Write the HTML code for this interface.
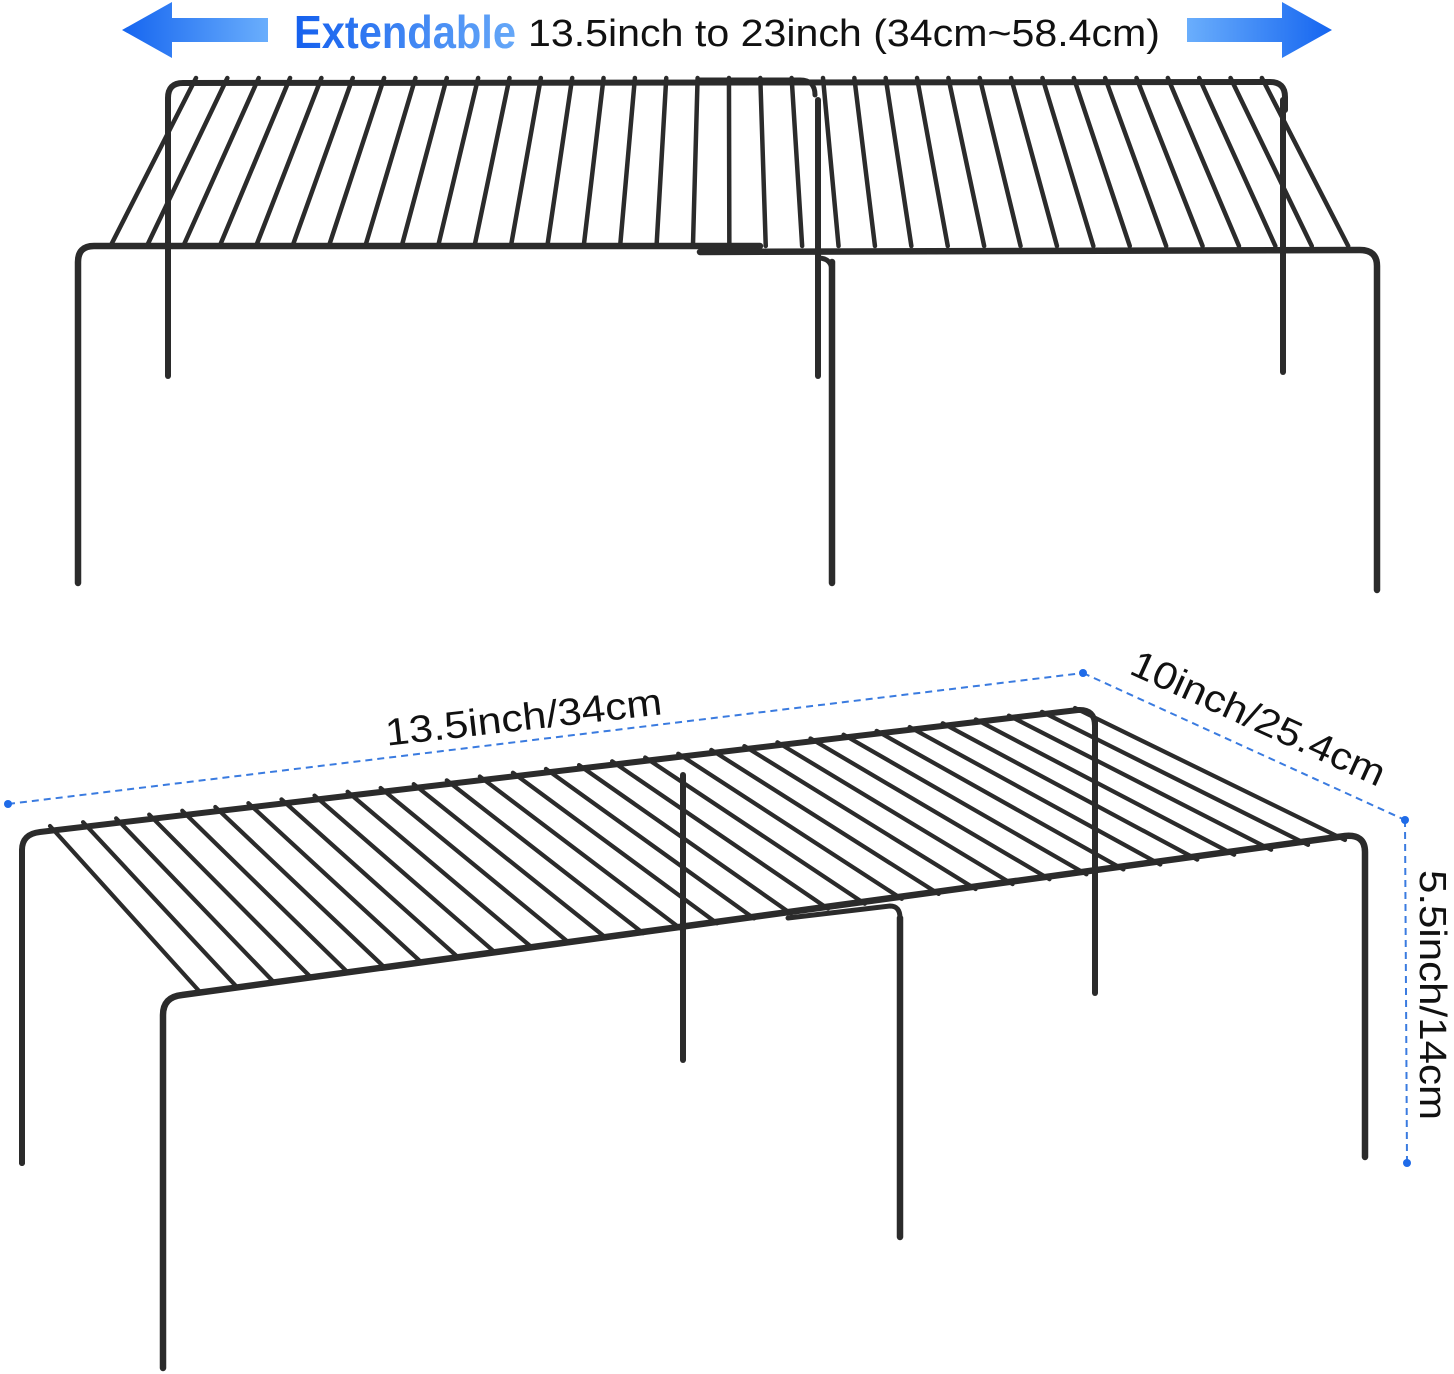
<!DOCTYPE html>
<html><head><meta charset="utf-8"><style>
html,body{margin:0;padding:0;background:#fff;width:1454px;height:1374px;overflow:hidden}
svg{display:block}
</style></head><body>
<svg id="s" width="1454" height="1374" viewBox="0 0 1454 1374" xmlns="http://www.w3.org/2000/svg">
<defs>
<linearGradient id="gL" x1="0" x2="1" y1="0" y2="0"><stop offset="0" stop-color="#1565f0"/><stop offset="1" stop-color="#6aaefc"/></linearGradient>
<linearGradient id="gR" x1="0" x2="1" y1="0" y2="0"><stop offset="0" stop-color="#6aaefc"/><stop offset="1" stop-color="#1565f0"/></linearGradient>
<linearGradient id="gT" x1="0" x2="1" y1="0" y2="0"><stop offset="0" stop-color="#1560ee"/><stop offset="1" stop-color="#66a8f8"/></linearGradient>
</defs>
<!-- header arrows -->
<polygon points="122,30 172,2 172,18 268,18 268,42 172,42 172,58" fill="url(#gL)"/>
<polygon points="1332,30 1282,2 1282,18 1187,18 1187,42 1282,42 1282,58" fill="url(#gR)"/>
<text x="294" y="48" font-family="Liberation Sans, sans-serif" font-weight="bold" font-size="46" fill="url(#gT)" textLength="222" lengthAdjust="spacingAndGlyphs">Extendable</text>
<text x="528" y="46" font-family="Liberation Sans, sans-serif" font-size="38" fill="#111" textLength="632" lengthAdjust="spacingAndGlyphs">13.5inch to 23inch (34cm~58.4cm)</text>

<g id="top" stroke="#2b2b2b" fill="none" stroke-linecap="round"></g>
<g id="bot" stroke="#2b2b2b" fill="none" stroke-linecap="round"></g>

<!-- dimension lines -->
<g stroke="#3a7be0" stroke-width="2" stroke-dasharray="7,5" fill="none">
<line x1="8" y1="804" x2="1083" y2="673"/>
<line x1="1083" y1="673" x2="1405" y2="820"/>
<line x1="1405" y1="820" x2="1407" y2="1163"/>
</g>
<g fill="#1f6be8">
<circle cx="8" cy="804" r="4"/><circle cx="1083" cy="673" r="4"/><circle cx="1405" cy="820" r="4"/><circle cx="1407" cy="1163" r="4"/>
</g>
<g font-family="Liberation Sans, sans-serif" font-size="38" fill="#111">
<text transform="translate(525,730) rotate(-6.5)" text-anchor="middle" textLength="278" lengthAdjust="spacingAndGlyphs">13.5inch/34cm</text>
<text transform="translate(1253,730) rotate(24.5)" text-anchor="middle" textLength="275" lengthAdjust="spacingAndGlyphs">10inch/25.4cm</text>
<text transform="translate(1420,995) rotate(90)" text-anchor="middle" textLength="250" lengthAdjust="spacingAndGlyphs">5.5inch/14cm</text>
</g>
</svg>
<script>
var NS="http://www.w3.org/2000/svg";
function el(g,tag,a){var e=document.createElementNS(NS,tag);for(var k in a)e.setAttribute(k,a[k]);g.appendChild(e);return e;}
var T=document.getElementById("top");
// back legs
el(T,"line",{x1:168,y1:100,x2:168,y2:376,"stroke-width":6});
el(T,"line",{x1:818,y1:100,x2:818,y2:376,"stroke-width":6});
el(T,"line",{x1:1283,y1:100,x2:1283,y2:372,"stroke-width":6});
// back rails
el(T,"path",{d:"M168,110 L168,98 Q168,83 183,83 L1270,82 Q1285,82 1285,97 L1285,110","stroke-width":6});
el(T,"path",{d:"M700,80 L800,80 Q815,80 815,95","stroke-width":5});
// wires
for(var i=0;i<35;i++){var bx=196+i*31.35;var fx=78+(bx-168)*(1297/1117);el(T,"line",{x1:bx,y1:78,x2:fx,y2:246,"stroke-width":4.5});}
// front rail
el(T,"path",{d:"M78,583 L78,262 Q78,246 94,246 L760,246","stroke-width":6.5});
el(T,"path",{d:"M700,252 L1360,250 Q1377,250 1377,266 L1377,590","stroke-width":6.5});
el(T,"line",{x1:832,y1:262,x2:832,y2:583,"stroke-width":6.5});
el(T,"path",{d:"M818,258 Q832,258 832,272","stroke-width":5});

var B=document.getElementById("bot");
// back legs
el(B,"line",{x1:22,y1:850,x2:22,y2:1163,"stroke-width":6});
el(B,"line",{x1:683,y1:775,x2:683,y2:1060,"stroke-width":6});
el(B,"line",{x1:1095,y1:722,x2:1095,y2:993,"stroke-width":6});
// back rail
el(B,"path",{d:"M22,1163 L22,850 Q22,834 40,832 L1078,710 Q1095,709 1095,726","stroke-width":6});
// wires
var n=32;
for(var i=0;i<n;i++){var t=i/(n-1);
var bx=50+t*1025, by=830-t*118;
var fx=200+t*1145, fy=992-t*152;
el(B,"line",{x1:bx,y1:by-4,x2:fx,y2:fy,"stroke-width":4.2});}
// front rail
el(B,"path",{d:"M163,1368 L163,1015 Q163,997 182,995 L1345,836 Q1365,834 1365,852 L1365,1157","stroke-width":6.5});
el(B,"line",{x1:900,y1:918,x2:900,y2:1237,"stroke-width":6.5});
el(B,"path",{d:"M788,918 L890,906 Q900,906 900,918","stroke-width":5});
</script>
</body></html>
